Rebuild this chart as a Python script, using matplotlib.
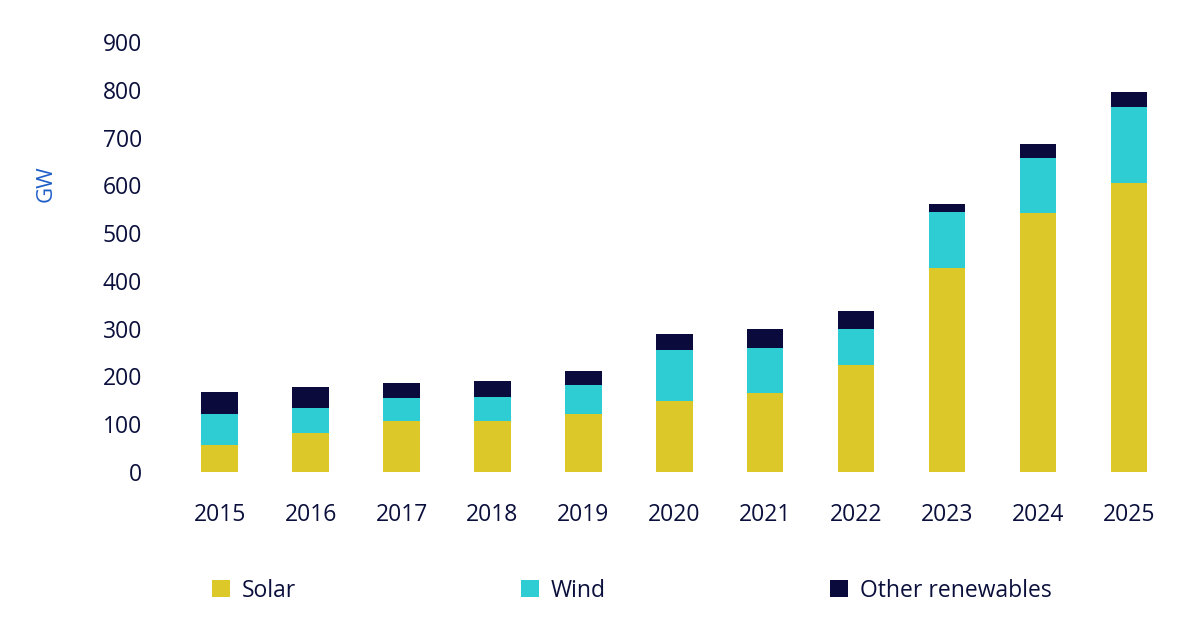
import matplotlib
matplotlib.use("Agg")
import matplotlib.pyplot as plt
import numpy as np

years = ["2015","2016","2017","2018","2019","2020","2021","2022","2023","2024","2025"]
solar = [56, 82, 107, 107, 121, 149, 165, 224, 427, 542, 605]
wind = [65, 52, 48, 50, 61, 106, 95, 75, 117, 115, 159]
other = [46, 44, 31, 33, 29, 34, 39, 38, 17, 29, 31]

c_solar, c_wind, c_other = "#DDC82A", "#2ECDD3", "#0A0A3C"
txt = "#0A0F3C"
plt.rcParams['font.family'] = ['Open Sans', 'DejaVu Sans']

fig = plt.figure(figsize=(12, 6.26), dpi=100)
ax = fig.add_axes([0.13, 0.246, 0.845, 0.687])
x = np.arange(len(years))
w = 0.4
s = np.array(solar); wd = np.array(wind); o = np.array(other)
ax.bar(x, s, w, color=c_solar, label="Solar")
ax.bar(x, wd, w, bottom=s, color=c_wind, label="Wind")
ax.bar(x, o, w, bottom=s + wd, color=c_other, label="Other renewables")
ax.set_ylim(0, 900)
ax.set_xlim(-0.7, 10.45)
ax.set_yticks(range(0, 901, 100))
ax.set_xticks(x)
ax.set_xticklabels(years)
for sp in ax.spines.values():
    sp.set_visible(False)
ax.tick_params(length=0, labelsize=16.5, colors=txt, pad=10)
ax.tick_params(axis='x', pad=22)
ax.set_ylabel("GW", color="#1F5FC8", fontsize=16)
ax.yaxis.set_label_coords(-0.098, 0.67)
ax.legend(loc="upper left", bbox_to_anchor=(0.035, -0.2), ncol=3, frameon=False,
          fontsize=16.5, labelcolor=txt, handlelength=0.8, handleheight=0.8,
          columnspacing=9.8, handletextpad=0.5)
fig.savefig("out.png", dpi=100)
